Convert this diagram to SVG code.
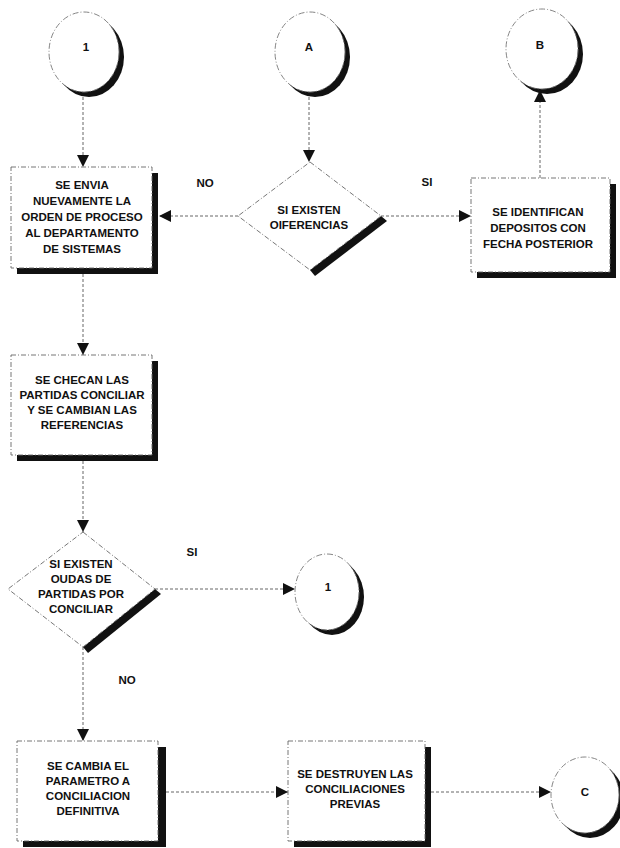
<svg xmlns="http://www.w3.org/2000/svg" width="620" height="848" viewBox="0 0 620 848">
<style>
.bx{fill:#fff;stroke:#666;stroke-width:0.9;stroke-dasharray:5 2 1 2}
.sh{fill:#111}
.cf{fill:#fff;stroke:#777;stroke-width:0.9;stroke-dasharray:6 2 1 2}
.cn{fill:none;stroke:#666;stroke-width:1;stroke-dasharray:3 2}
text{font-family:"Liberation Sans",Arial,sans-serif;font-weight:bold;font-size:11.5px;text-anchor:middle;fill:#111}
</style>
<defs>
<marker id="ah" viewBox="0 0 12 12" refX="12" refY="6" markerWidth="12" markerHeight="12" markerUnits="userSpaceOnUse" orient="auto">
<path d="M0,0 L12,6 L0,12 z" fill="#111"/>
</marker>
</defs>
<g id="connectors">
<line class="cn" x1="83" y1="92" x2="83" y2="167" marker-end="url(#ah)"/>
<line class="cn" x1="309" y1="92" x2="309" y2="162" marker-end="url(#ah)"/>
<line class="cn" x1="238" y1="216" x2="159" y2="216" marker-end="url(#ah)"/>
<line class="cn" x1="381" y1="216" x2="471" y2="216" marker-end="url(#ah)"/>
<line class="cn" x1="540" y1="178" x2="540" y2="90" marker-end="url(#ah)"/>
<line class="cn" x1="83" y1="274" x2="83" y2="355" marker-end="url(#ah)"/>
<line class="cn" x1="83" y1="461" x2="83" y2="532" marker-end="url(#ah)"/>
<line class="cn" x1="155" y1="589" x2="295" y2="589" marker-end="url(#ah)"/>
<line class="cn" x1="83" y1="647" x2="83" y2="741" marker-end="url(#ah)"/>
<line class="cn" x1="166" y1="792" x2="288" y2="792" marker-end="url(#ah)"/>
<line class="cn" x1="431" y1="792" x2="551" y2="792" marker-end="url(#ah)"/>
<text x="205" y="187">NO</text>
<text x="427" y="186">SI</text>
<text x="192" y="556">SI</text>
<text x="127" y="684">NO</text>
</g>
<g id="c1">
<ellipse class="sh" cx="89" cy="57" rx="35" ry="40"/>
<ellipse class="cf" cx="84" cy="52" rx="35" ry="40"/>
<text x="86" y="51">1</text>
</g>
<g id="cA">
<ellipse class="sh" cx="315" cy="57" rx="35" ry="40"/>
<ellipse class="cf" cx="310" cy="52" rx="35" ry="40"/>
<text x="309" y="51">A</text>
</g>
<g id="cB">
<ellipse class="sh" cx="547" cy="54" rx="36" ry="40"/>
<ellipse class="cf" cx="542" cy="49" rx="36" ry="40"/>
<text x="540" y="49">B</text>
</g>
<g id="box1">
<rect class="sh" x="17" y="173" width="141" height="101"/>
<rect class="bx" x="11" y="167" width="141" height="101"/>
<text x="82" y="189">SE ENVIA</text>
<text x="82" y="205">NUEVAMENTE LA</text>
<text x="82" y="221">ORDEN DE PROCESO</text>
<text x="82" y="237">AL DEPARTAMENTO</text>
<text x="82" y="253">DE SISTEMAS</text>
</g>
<g id="d1">
<polygon class="sh" points="381,216 387,221 315,276 310,270"/>
<polygon class="bx" points="310,162 381,216 310,270 238,216"/>
<text x="309" y="214">SI EXISTEN</text>
<text x="309" y="229">OIFERENCIAS</text>
</g>
<g id="box3">
<rect class="sh" x="477" y="184" width="139" height="94"/>
<rect class="bx" x="471" y="178" width="139" height="94"/>
<text x="538" y="216">SE IDENTIFICAN</text>
<text x="538" y="232">DEPOSITOS CON</text>
<text x="538" y="248">FECHA POSTERIOR</text>
</g>
<g id="box2">
<rect class="sh" x="17" y="361" width="141" height="100"/>
<rect class="bx" x="11" y="355" width="141" height="100"/>
<text x="82" y="384">SE CHECAN LAS</text>
<text x="82" y="399">PARTIDAS CONCILIAR</text>
<text x="82" y="414">Y SE CAMBIAN LAS</text>
<text x="82" y="429">REFERENCIAS</text>
</g>
<g id="d2">
<polygon class="sh" points="155,589 161,594 88,653 83,647"/>
<polygon class="bx" points="83,532 155,589 83,647 8,589"/>
<text x="81" y="568">SI EXISTEN</text>
<text x="81" y="583">OUDAS DE</text>
<text x="81" y="598">PARTIDAS POR</text>
<text x="81" y="613">CONCILIAR</text>
</g>
<g id="c1b">
<ellipse class="sh" cx="332" cy="597" rx="32" ry="38"/>
<ellipse class="cf" cx="327" cy="592" rx="32" ry="38"/>
<text x="328" y="591">1</text>
</g>
<g id="box4">
<rect class="sh" x="23" y="747" width="143" height="100"/>
<rect class="bx" x="17" y="741" width="141" height="100"/>
<text x="88" y="770">SE CAMBIA EL</text>
<text x="88" y="785">PARAMETRO A</text>
<text x="88" y="800">CONCILIACION</text>
<text x="88" y="815">DEFINITIVA</text>
</g>
<g id="box5">
<rect class="sh" x="294" y="747" width="137" height="100"/>
<rect class="bx" x="288" y="741" width="137" height="100"/>
<text x="355" y="778">SE DESTRUYEN LAS</text>
<text x="355" y="793">CONCILIACIONES</text>
<text x="355" y="808">PREVIAS</text>
</g>
<g id="cC">
<ellipse class="sh" cx="590" cy="800" rx="34" ry="38"/>
<ellipse class="cf" cx="585" cy="795" rx="34" ry="38"/>
<text x="585" y="796">C</text>
</g>
</svg>
